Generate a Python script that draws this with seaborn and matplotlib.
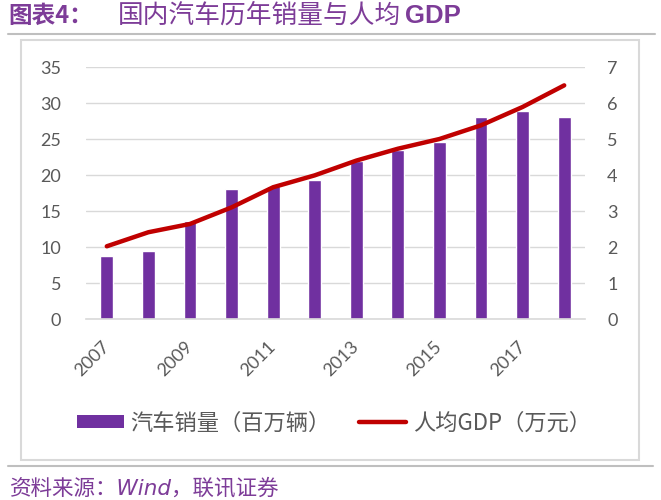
import numpy as np
import pandas as pd
import seaborn as sns
import matplotlib.pyplot as plt
from matplotlib.patches import Rectangle, Patch
from matplotlib.lines import Line2D

years = ['2007', '2008', '2009', '2010', '2011', '2012',
         '2013', '2014', '2015', '2016', '2017', '2018']
car_sales = [8.8, 9.4, 13.6, 18.1, 18.5, 19.3, 22.0, 23.5, 24.6, 28.0, 28.9, 28.0]
gdp_per_capita = [2.02, 2.41, 2.64, 3.10, 3.66, 3.99, 4.40, 4.73, 5.00, 5.38, 5.89, 6.49]
year_labels = ['2007', '2009', '2011', '2013', '2015', '2017']

purple = '#7030A0'
red = '#C00000'
grid_c = '#D9D9D9'
txt_c = '#595959'
title_c = '#7D3C98'

sns.set_style('white')
plt.rcParams['font.family'] = ['Lato', 'Noto Sans CJK SC', 'DejaVu Sans']

df = pd.DataFrame({'year': years, 'sales': car_sales, 'gdp': gdp_per_capita})

fig = plt.figure(figsize=(6.61, 5.0), dpi=100)
ax = fig.add_axes([86 / 661, 1 - 319 / 500, (585 - 86) / 661, (319 - 67) / 500])

sns.barplot(data=df, x='year', y='sales', color=purple, width=0.31,
            saturation=1, ax=ax)
ax.set_ylim(0, 35)
ax.set_xlim(-0.5, len(years) - 0.5)
ax.set_yticks(range(0, 36, 5))
ax.yaxis.grid(True, color=grid_c, lw=1)
ax.set_axisbelow(True)
ax.set_xlabel('')
ax.set_ylabel('')
for s in ['top', 'right', 'left']:
    ax.spines[s].set_visible(False)
ax.spines['bottom'].set_color(grid_c)
ax.spines['bottom'].set_linewidth(1.2)

pos = np.arange(len(years))
ax.set_xticks(pos[::2], year_labels, rotation=45, ha='right',
              va='center', rotation_mode='anchor')
ax.set_xticks(np.arange(-0.5, len(years), 2), minor=True)
ax.tick_params(axis='x', which='major', length=0, pad=18, labelsize=13,
               labelcolor=txt_c)
ax.tick_params(axis='x', which='minor', length=5, color=grid_c, width=1.2,
               direction='out')
ax.tick_params(axis='y', length=0, pad=18, labelsize=13, labelcolor=txt_c)

ax2 = ax.twinx()
sns.lineplot(x=pos, y=df['gdp'], color=red, lw=3.2, ax=ax2)
ax2.set_ylim(0, 7)
ax2.set_yticks(range(0, 8))
ax2.set_ylabel('')
for s in ['top', 'right', 'left', 'bottom']:
    ax2.spines[s].set_visible(False)
ax2.tick_params(axis='y', length=0, pad=16, labelsize=13, labelcolor=txt_c)
ax2.grid(False)

handles = [Patch(facecolor=purple, edgecolor='none'),
           Line2D([0], [0], color=red, lw=3.2)]
fig.legend(handles, ['汽车销量（百万辆）', '人均GDP（万元）'],
           loc='center', bbox_to_anchor=(0.505, 1 - 423 / 500), ncol=2,
           frameon=False, prop={'family': ['Noto Sans CJK SC'], 'size': 16},
           labelcolor=txt_c, handlelength=2.1, handletextpad=0.3,
           columnspacing=1.3, handleheight=0.55)

# chart frame and separator lines
fig.patches.append(Rectangle((21 / 661, 1 - 460 / 500), (639 - 21) / 661,
                             (460 - 40) / 500, transform=fig.transFigure,
                             fill=False, edgecolor=grid_c, lw=1.5))
fig.add_artist(Line2D([8 / 661, 655 / 661], [1 - 34 / 500] * 2,
                      transform=fig.transFigure, color='#BFBFBF', lw=1.5))
fig.add_artist(Line2D([8 / 661, 653 / 661], [1 - 466 / 500] * 2,
                      transform=fig.transFigure, color='#BFBFBF', lw=1.5))

fig.text(8 / 661, 1 - 16 / 500, '图表4：', color=title_c, fontsize=17,
         fontweight='bold', va='center', family=['Noto Sans CJK SC'])
fig.text(118 / 661, 1 - 16 / 500, '国内汽车历年销量与人均', color=title_c,
         fontsize=18.5, fontweight='medium', va='center',
         family=['Noto Sans CJK SC'])
fig.text(405 / 661, 1 - 16 / 500, 'GDP', color=title_c,
         fontsize=18.5, fontweight='bold', va='center',
         family=['Liberation Sans'])
fig.text(10 / 661, 1 - 488 / 500, '资料来源：Wind，联讯证券', color=title_c,
         fontsize=15.5, style='italic', va='center',
         family=['DejaVu Sans', 'Noto Sans CJK SC'])

plt.savefig('out.png', dpi=100)
